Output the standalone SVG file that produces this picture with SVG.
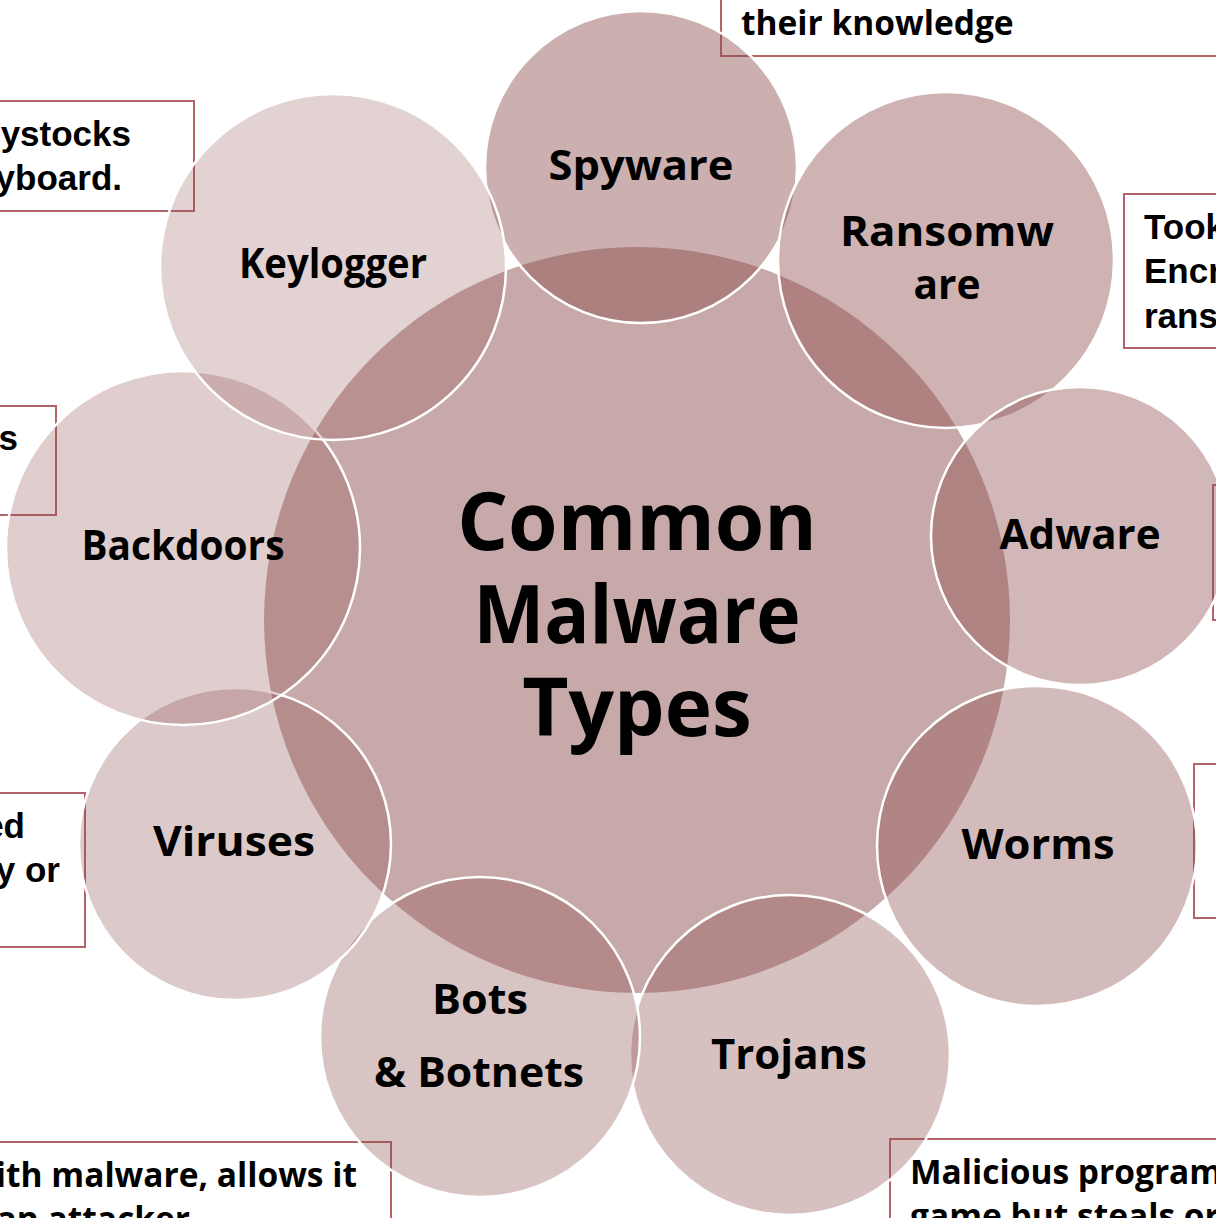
<svg xmlns="http://www.w3.org/2000/svg" width="1216" height="1218" viewBox="0 0 1216 1218">
<style>
.box{fill:#ffffff;stroke:#b46468;stroke-width:2}
.c{fill:#8c4b4b;stroke:#ffffff;stroke-width:2.5}
.lbl{font-family:"Open Sans","Noto Sans",sans-serif;font-weight:700;font-size:41px;fill:#000;text-anchor:middle}
.title{font-family:"Open Sans","Noto Sans",sans-serif;font-weight:700;font-size:80px;fill:#000;text-anchor:middle}
.bt{font-family:"Open Sans","Noto Sans",sans-serif;font-weight:700;font-size:33.5px;fill:#000}
.ba{font-family:"Liberation Sans",Arial,sans-serif;font-weight:700;font-size:35px;fill:#000}
</style>
<rect width="1216" height="1218" fill="#ffffff"/>
<g id="descriptions">
<g id="desc-spyware"><rect class="box" x="721" y="-20" width="520" height="76"/><text class="bt" x="741" y="35">their knowledge</text></g>
<g id="desc-keylogger"><rect class="box" x="-20" y="101" width="214" height="110"/><text class="ba" x="131" y="146" text-anchor="end">ystocks</text><text class="ba" x="122" y="190" text-anchor="end">yboard.</text></g>
<g id="desc-backdoors"><rect class="box" x="-20" y="406" width="76" height="109"/><text class="ba" x="18" y="450" text-anchor="end">s</text></g>
<g id="desc-viruses"><rect class="box" x="-20" y="793" width="105" height="154"/><text class="ba" x="25" y="838" text-anchor="end">ed</text><text class="ba" x="60" y="882" text-anchor="end">y or</text></g>
<g id="desc-bots"><rect class="box" x="-20" y="1142" width="411" height="100"/><text class="bt" x="357" y="1187" text-anchor="end" font-size="35">ith malware, allows it</text><text class="bt" x="190" y="1231" text-anchor="end" font-size="35">an attacker</text></g>
<g id="desc-trojans"><rect class="box" x="890" y="1139" width="360" height="100"/><text class="bt" x="910" y="1184" font-size="35">Malicious program</text><text class="bt" x="910" y="1228" font-size="35">game but steals or</text></g>
<g id="desc-ransomware"><rect class="box" x="1124" y="194" width="120" height="154"/><text class="ba" x="1144" y="239">Took</text><text class="ba" x="1144" y="283">Encr</text><text class="ba" x="1144" y="328">rans</text></g>
<g id="desc-adware"><rect class="box" x="1213" y="485" width="40" height="135"/></g>
<g id="desc-worms"><rect class="box" x="1194" y="764" width="60" height="154"/></g>
</g>
<g id="center"><circle cx="637" cy="620" r="373" fill="#8c4b4b" fill-opacity="0.48"/></g>
<g id="node-spyware"><circle class="c" cx="641" cy="167" r="156" fill-opacity="0.44"/></g>
<g id="node-ransomware"><circle class="c" cx="946" cy="260" r="168" fill-opacity="0.42"/></g>
<g id="node-adware"><circle class="c" cx="1080" cy="536" r="149" fill-opacity="0.40"/></g>
<g id="node-worms"><circle class="c" cx="1037" cy="846" r="160" fill-opacity="0.38"/></g>
<g id="node-trojans"><circle class="c" cx="790" cy="1055" r="160" fill-opacity="0.35"/></g>
<g id="node-bots"><circle class="c" cx="480" cy="1037" r="160" fill-opacity="0.33"/></g>
<g id="node-viruses"><circle class="c" cx="235" cy="844" r="156" fill-opacity="0.30"/></g>
<g id="node-backdoors"><circle class="c" cx="183" cy="548" r="177" fill-opacity="0.27"/></g>
<g id="node-keylogger"><circle class="c" cx="333" cy="267" r="173" fill-opacity="0.25"/></g>
<g id="labels">
<text class="title" x="637" y="550">Common</text>
<text class="title" x="637" y="643" textLength="327" lengthAdjust="spacingAndGlyphs">Malware</text>
<text class="title" x="637" y="736">Types</text>
<text class="lbl" x="641" y="180" textLength="185" lengthAdjust="spacingAndGlyphs">Spyware</text>
<text class="lbl" x="947" y="246" textLength="214" lengthAdjust="spacingAndGlyphs">Ransomw</text>
<text class="lbl" x="947" y="299" textLength="67" lengthAdjust="spacingAndGlyphs">are</text>
<text class="lbl" x="333" y="278" textLength="188" lengthAdjust="spacingAndGlyphs">Keylogger</text>
<text class="lbl" x="1080" y="549" textLength="161" lengthAdjust="spacingAndGlyphs">Adware</text>
<text class="lbl" x="183" y="560" textLength="203" lengthAdjust="spacingAndGlyphs">Backdoors</text>
<text class="lbl" x="1038" y="859" textLength="153" lengthAdjust="spacingAndGlyphs">Worms</text>
<text class="lbl" x="234" y="856" textLength="162" lengthAdjust="spacingAndGlyphs">Viruses</text>
<text class="lbl" x="789" y="1069" textLength="156" lengthAdjust="spacingAndGlyphs">Trojans</text>
<text class="lbl" x="480" y="1014" textLength="96" lengthAdjust="spacingAndGlyphs">Bots</text>
<text class="lbl" x="479" y="1087" textLength="210" lengthAdjust="spacingAndGlyphs">&amp; Botnets</text>
</g>
</svg>
